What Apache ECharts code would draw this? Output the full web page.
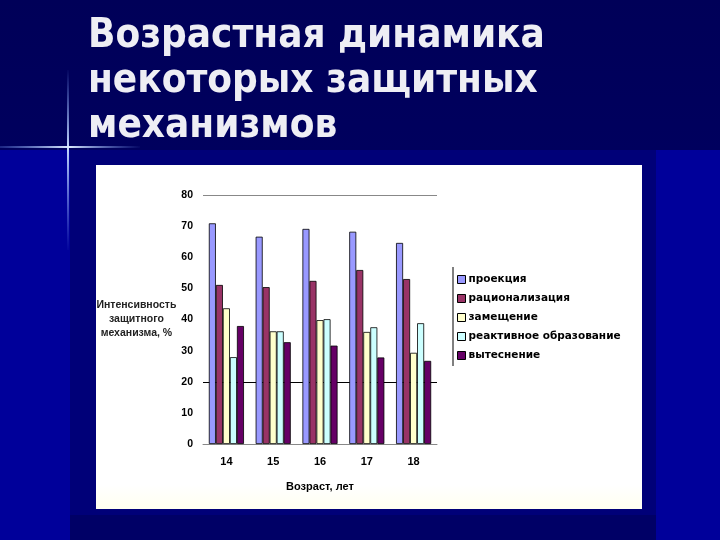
<!DOCTYPE html>
<html><head><meta charset="utf-8">
<script src="https://cdn.jsdelivr.net/npm/echarts@6/dist/echarts.min.js"></script>
<style>html,body{margin:0;padding:0;background:#000090}#c{width:720px;height:540px}</style>
</head><body><div id="c"></div>
<script>
var categories = ['14', '15', '16', '17', '18'];
var seriesNames = ['проекция', 'рационализация', 'замещение', 'реактивное образование', 'вытеснение'];
var projection = [70.9, 66.6, 69.1, 68.2, 64.6];
var rationalization = [51.1, 50.4, 52.4, 55.9, 53.0];
var substitution = [43.6, 36.2, 39.8, 36.0, 29.3];
var reactiveFormation = [27.9, 36.2, 40.1, 37.5, 38.8];
var repression = [37.9, 32.7, 31.6, 27.8, 26.7];
var seriesColors = ['#9999FF', '#993366', '#FFFFCC', '#CCFFFF', '#660066'];
var titleText = 'Возрастная динамика\nнекоторых защитных\nмеханизмов';
var yAxisTitle = 'Интенсивность\nзащитного\nмеханизма, %';
var xAxisTitle = 'Возраст, лет';

var dataSets = [projection, rationalization, substitution, reactiveFormation, repression];
var chart = echarts.init(document.getElementById('c'));
var splitColors = ['rgba(0,0,0,0)', 'rgba(0,0,0,0)', '#000', 'rgba(0,0,0,0)', 'rgba(0,0,0,0)', 'rgba(0,0,0,0)', 'rgba(0,0,0,0)', 'rgba(0,0,0,0)', '#888'];

chart.setOption({
  backgroundColor: '#00009a',
  animation: false,
  graphic: [
    {type: 'rect', z: -10, shape: {x: 0, y: 0, width: 720, height: 150}, style: {fill: {type: 'linear', x: 0, y: 0, x2: 0, y2: 1, colorStops: [{offset: 0, color: '#000058'}, {offset: 1, color: '#00005e'}]}}},
    {type: 'rect', z: -10, shape: {x: 70, y: 150, width: 586, height: 390}, style: {fill: '#000078'}},
    {type: 'rect', z: -10, shape: {x: 70, y: 515, width: 586, height: 25}, style: {fill: '#000066'}},
    {type: 'rect', z: -9, shape: {x: 96, y: 165, width: 546, height: 344}, style: {fill: {type: 'linear', x: 0, y: 0, x2: 0, y2: 1, colorStops: [{offset: 0, color: '#ffffff'}, {offset: 0.93, color: '#ffffff'}, {offset: 1, color: '#fffff0'}]}}},
    {type: 'line', z: -8, shape: {x1: 68, y1: 70, x2: 68, y2: 250}, style: {stroke: {type: 'linear', x: 0, y: 0, x2: 0, y2: 1, colorStops: [{offset: 0, color: 'rgba(120,160,255,0)'}, {offset: 0.43, color: 'rgba(200,220,255,1)'}, {offset: 1, color: 'rgba(120,160,255,0)'}]}, lineWidth: 2}},
    {type: 'line', z: -8, shape: {x1: 0, y1: 147, x2: 140, y2: 147}, style: {stroke: {type: 'linear', x: 0, y: 0, x2: 1, y2: 0, colorStops: [{offset: 0, color: 'rgba(120,160,255,0.2)'}, {offset: 0.49, color: 'rgba(220,235,255,1)'}, {offset: 1, color: 'rgba(120,160,255,0)'}]}, lineWidth: 2}},
    {type: 'text', left: 88, top: 14, style: {text: titleText, fill: '#eeeef4', font: 'bold 40px "DejaVu Sans Condensed"', lineHeight: 45}},
    {type: 'line', shape: {x1: 453, y1: 267, x2: 453, y2: 366}, style: {stroke: '#000', lineWidth: 1}}
  ],
  legend: {
    orient: 'vertical', left: 452, top: 269,
    itemWidth: 8, itemHeight: 8, itemGap: 8,
    icon: 'rect',
    data: seriesNames,
    textStyle: {fontFamily: 'DejaVu Sans', fontWeight: 'bold', fontSize: 10.5, color: '#000', padding: [0, 0, 0, -2]},
    itemStyle: {borderColor: '#000', borderWidth: 1}
  },
  grid: {left: 203, right: 283, top: 195, bottom: 96},
  xAxis: {
    type: 'category', data: categories,
    name: xAxisTitle, nameLocation: 'middle', nameGap: 37,
    nameTextStyle: {fontFamily: 'Liberation Sans', fontWeight: 'bold', fontSize: 11, color: '#000'},
    axisLine: {lineStyle: {color: '#888'}},
    axisTick: {show: false},
    axisLabel: {fontFamily: 'Liberation Sans', fontWeight: 'bold', fontSize: 11, color: '#000', margin: 12}
  },
  yAxis: {
    type: 'value', min: 0, max: 80, interval: 10,
    name: yAxisTitle, nameLocation: 'middle', nameGap: 58, nameRotate: 0,
    nameTextStyle: {fontFamily: 'Liberation Sans', fontWeight: 'bold', fontSize: 10.5, color: '#222', lineHeight: 14, align: 'center'},
    axisLine: {show: false},
    axisTick: {show: false},
    axisLabel: {fontFamily: 'Liberation Sans', fontWeight: 'bold', fontSize: 10.5, color: '#000', margin: 10},
    splitLine: {show: true, lineStyle: {color: splitColors, width: 1}}
  },
  series: dataSets.map(function (d, i) {
    return {
      name: seriesNames[i], type: 'bar', data: d,
      barGap: '0%', barCategoryGap: '25%',
      itemStyle: {color: seriesColors[i], borderColor: '#000', borderWidth: 0.8}
    };
  })
});
</script></body></html>
